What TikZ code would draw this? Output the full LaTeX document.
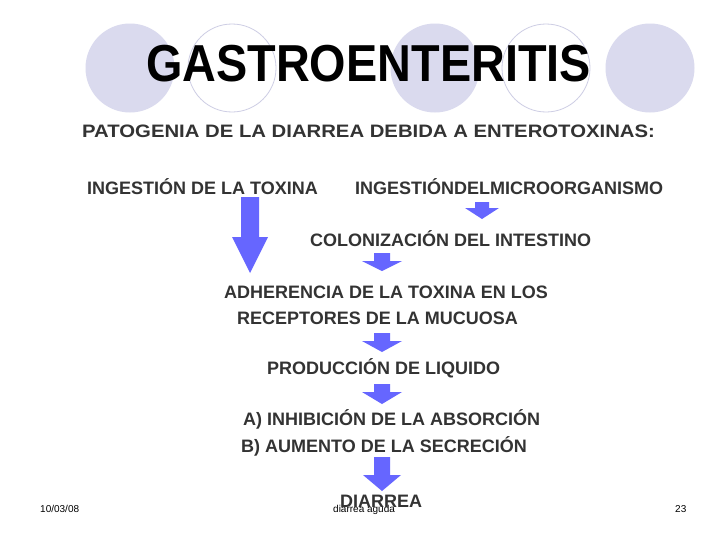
\documentclass[tikz,border=0pt]{standalone}
\usepackage{fontspec}
\setmainfont{Liberation Sans}
\usepackage{graphicx}
\definecolor{circfill}{RGB}{218,218,238}
\definecolor{circline}{RGB}{205,205,228}
\definecolor{arrowc}{RGB}{102,102,255}
\definecolor{txt}{RGB}{51,51,51}
\tikzset{
  body/.style={anchor=base west, inner sep=0pt, font=\fontsize{18}{18}\selectfont\bfseries, text=txt},
  foot/.style={anchor=base west, inner sep=0pt, font=\fontsize{10}{10}\selectfont, text=black},
  titlestyle/.style={anchor=base, inner sep=0pt, font=\fontsize{52}{52}\selectfont\bfseries, text=black},
  fcirc/.style={fill=circfill, draw=none},
  ocirc/.style={draw=circline, line width=0.8pt, fill=none},
}
\newcommand{\blockarr}[6]{% cx, top, headstart, tip, shafthalf, headhalf
  \fill[arrowc] ({#1-#5},#2) -- ({#1+#5},#2) -- ({#1+#5},#3) -- ({#1+#6},#3) -- (#1,#4) -- ({#1-#6},#3) -- ({#1-#5},#3) -- cycle;}
\begin{document}
\begin{tikzpicture}[x=1pt,y=-1pt]
\useasboundingbox (0,0) rectangle (728,546);
\fill[white] (0,0) rectangle (728,546);
% decorative circles
\fill[fcirc] (130,68) circle (44.5);
\draw[ocirc] (232,68) circle (44);
\fill[fcirc] (435,68) circle (44.5);
\draw[ocirc] (546,68) circle (44);
\fill[fcirc] (650,68) circle (44.5);
% title
\node[titlestyle] (title) at (368.5,81) {\scalebox{0.9}[1]{GASTROENTERITIS}};
% body text
\node[body] (pat) at (82,137) {\scalebox{1.128}[1]{PATOGENIA DE LA DIARREA DEBIDA A ENTEROTOXINAS:}};
\node[body] (ingtox) at (87,194) {INGESTIÓN DE LA TOXINA};
\node[body] (ingmic) at (355,194) {INGESTIÓNDELMICROORGANISMO};
\node[body] (colon) at (310,246) {COLONIZACIÓN DEL INTESTINO};
\node[body] (adh) at (224,298) {ADHERENCIA DE LA TOXINA EN LOS};
\node[body] (rec) at (237,324) {RECEPTORES DE LA MUCUOSA};
\node[body] (prod) at (267,374) {PRODUCCIÓN DE LIQUIDO};
\node[body] (inh) at (243,425) {A) INHIBICIÓN DE LA ABSORCIÓN};
\node[body] (aum) at (241,452) {B) AUMENTO DE LA SECRECIÓN};
% block arrows
\blockarr{250}{197}{237}{273}{9}{18}
\blockarr{482}{202}{208}{219}{7}{17}
\blockarr{382}{253}{261}{271}{8}{20}
\blockarr{382}{333}{341}{352}{8}{20}
\blockarr{382}{384}{392}{404}{8}{20}
\blockarr{382}{457}{475}{491}{8}{19}
% footer
\node[foot] (date) at (40,512) {10/03/08};
\node[foot] (ftitle) at (333,512) {diarrea aguda};
\node[foot] (page) at (675,512) {23};
\node[body] (diar) at (340,507) {DIARREA};
\end{tikzpicture}
\end{document}
